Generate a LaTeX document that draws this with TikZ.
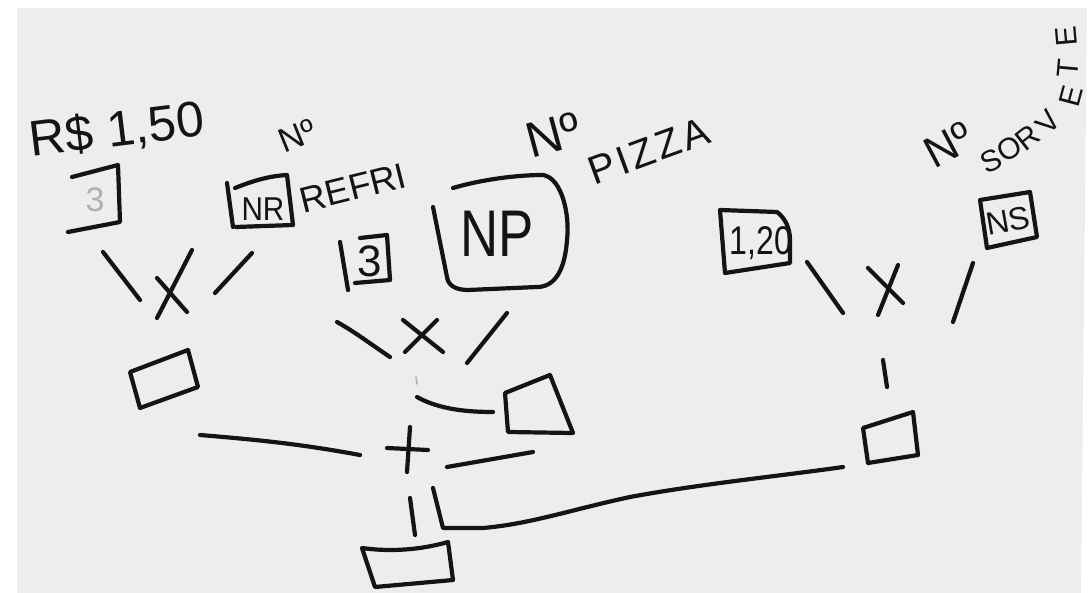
\documentclass[tikz,border=0pt]{standalone}
\usepackage{fontspec}
\setmainfont{Liberation Sans}
\usepackage{graphicx}
\definecolor{paper}{RGB}{238,237,237}
\definecolor{ink}{RGB}{20,20,20}
\definecolor{faded}{RGB}{175,175,175}
\newcommand\fs[1]{\fontsize{#1}{#1}\selectfont}
\begin{document}
\begin{tikzpicture}[x=1pt,y=-1pt,
  pen/.style={draw=ink,line width=4.2pt,line cap=round,line join=round},
  lbl/.style={text=ink,inner sep=0pt,outer sep=0pt}]
\useasboundingbox (0,0) rectangle (1089,593);
\fill[white] (0,0) rectangle (1089,593);
\fill[paper] (17,8) -- (1087,8) -- (1081,593) -- (17,593) -- cycle;

% ---------- soft drink: price x quantity ----------
\node[lbl,rotate=7] (price) at (117,131) {\fs{50}R\$ 1,50};
\draw[pen] (72,177) -- (118,165) -- (120,222) -- (68,232);
\node[lbl,text=faded] (priceval) at (95,200) {\fs{34}3};

\node[lbl,rotate=22] (nref) at (297,136) {\fs{34}Nº};
\node[lbl,rotate=14] (refri) at (353,188) {\fs{36}REFRI};
\draw[pen] (227,183) -- (233,227);
\draw[pen] (235,188) .. controls (255,180) and (270,176) .. (287,175) -- (293,225) -- (236,227);
\node[lbl] (nr) at (263,209) {\scalebox{0.9}[1]{\fs{33}NR}};

\draw[pen] (103,252) -- (140,300);
\draw[pen] (192,250) -- (157,318);
\draw[pen] (157,278) -- (187,312);
\draw[pen] (252,253) -- (215,293);
\draw[pen] (130,372) -- (188,350) -- (198,387) -- (140,408) -- cycle;

% ---------- pizza: 3 x quantity ----------
\draw[pen] (340,242) -- (348,290);
\draw[pen] (360,238) -- (387,235) -- (390,280) -- (355,283);
\node[lbl] (three) at (370,261) {\fs{44}3};

\node[lbl,rotate=15] (npiz) at (553,135) {\fs{50}Nº};
\node[lbl,rotate=20] (pizza) at (649,151) {\fs{40}\addfontfeature{LetterSpace=8}PIZZA};
\draw[pen] (433,207) -- (447,277);
\draw[pen] (453,188) .. controls (480,180) and (515,175) .. (543,175)
  .. controls (562,178) and (570,215) .. (567,240)
  .. controls (565,268) and (556,287) .. (537,287)
  -- (468,290) .. controls (455,290) and (448,285) .. (447,277);
\node[lbl] (np) at (497,234) {\scalebox{0.8}[1]{\fs{66}NP}};

\draw[pen] (337,322) .. controls (355,332) and (372,345) .. (390,357);
\draw[pen] (403,320) -- (443,352);
\draw[pen] (437,320) -- (405,352);
\draw[pen] (507,313) -- (467,363);
\draw[draw=faded,line width=1.6pt,line cap=round] (416,377) -- (417,384);
\draw[pen] (417,397) .. controls (440,410) and (470,412) .. (493,412);
\draw[pen] (505,393) -- (550,375) -- (573,433) -- (508,432) -- cycle;

% ---------- ice cream: 1,20 x quantity ----------
\node[lbl,rotate=28] (nsorv) at (948,145) {\fs{44}Nº};
\node[lbl,rotate=25] (s1) at (991,161) {\fs{30}S};
\node[lbl,rotate=30] (s2) at (1009,149) {\fs{30}O};
\node[lbl,rotate=38] (s3) at (1028,138) {\fs{30}R};
\node[lbl,rotate=50] (s4) at (1048,122) {\fs{30}V};
\node[lbl,rotate=75] (s5) at (1071,96) {\fs{30}E};
\node[lbl,rotate=85] (s6) at (1068,68) {\fs{30}T};
\node[lbl,rotate=95] (s7) at (1066,36) {\fs{30}E};

\draw[pen] (720,210) -- (777,212) .. controls (785,218) and (790,228) .. (790,240) -- (790,263) -- (725,273) -- cycle;
\node[lbl] (oneTwenty) at (761,243) {\scalebox{0.8}[1]{\fs{40}1,20}};

\draw[pen] (980,200) -- (1030,192) -- (1037,237) -- (987,248) -- cycle;
\node[lbl,rotate=10] (ns) at (1008,221) {\fs{32}NS};

\draw[pen] (807,262) -- (843,313);
\draw[pen] (868,268) -- (903,303);
\draw[pen] (898,265) -- (878,315);
\draw[pen] (973,263) -- (953,322);
\draw[pen] (883,360) -- (887,387);
\draw[pen] (863,428) -- (913,412) -- (918,455) -- (868,463) -- cycle;

% ---------- total ----------
\draw[pen] (200,435) .. controls (260,440) and (300,444) .. (360,455);
\draw[pen] (387,448) -- (428,450);
\draw[pen] (410,427) -- (407,472);
\draw[pen] (447,467) -- (533,452);
\draw[pen] (410,498) -- (415,535);
\draw[pen] (433,488) -- (443,528) -- (483,528)
  .. controls (530,524) and (570,510) .. (630,497)
  .. controls (700,484) and (780,476) .. (843,467);
\draw[pen] (362,548) .. controls (390,552) and (420,550) .. (448,542) -- (453,580)
  -- (375,587) -- cycle;
\end{tikzpicture}
\end{document}
